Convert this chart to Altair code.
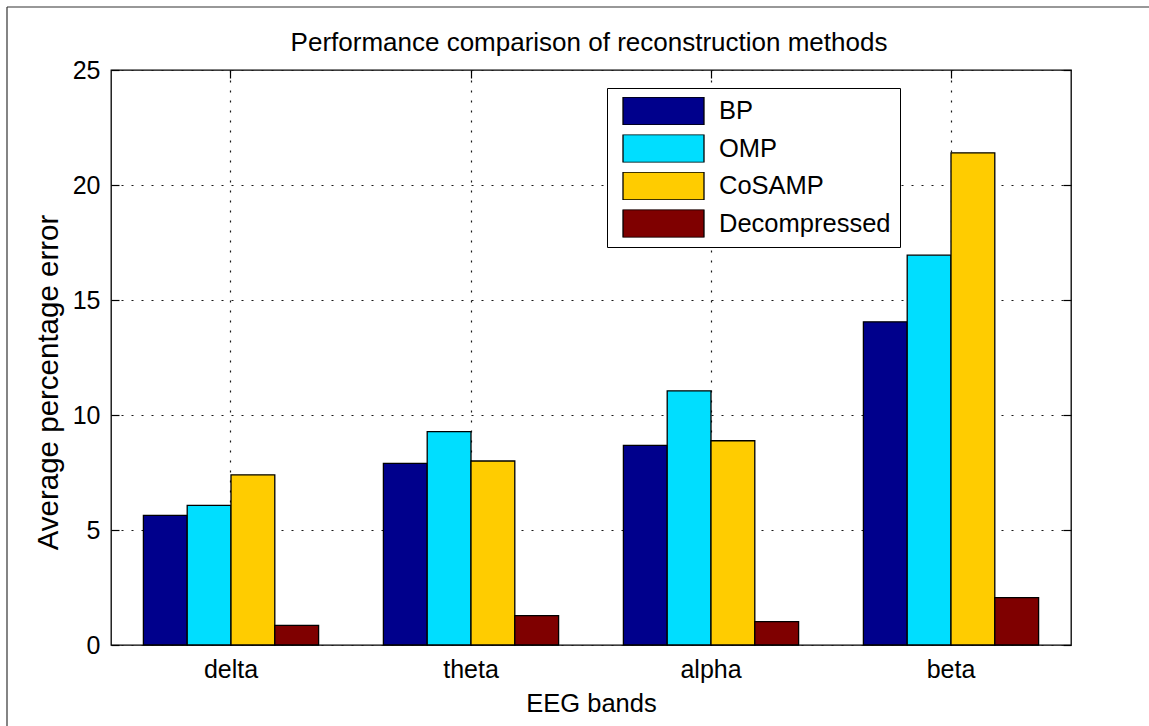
import altair as alt
import pandas as pd

# EEG bands on the x axis and reconstruction methods within each band
bands = ["delta", "theta", "alpha", "beta"]
methods = ["BP", "OMP", "CoSAMP", "Decompressed"]

# average percentage error per band, one list per method
bp = [5.64, 7.90, 8.68, 14.05]
omp = [6.07, 9.28, 11.05, 16.95]
cosamp = [7.40, 8.00, 8.88, 21.40]
decompressed = [0.85, 1.28, 1.02, 2.06]

y_ticks = [0, 5, 10, 15, 20, 25]
colors = ["#00008C", "#00DEFF", "#FFCC00", "#7F0000"]
chart_title = "Performance comparison of reconstruction methods"

series = dict(zip(methods, [bp, omp, cosamp, decompressed]))
df = pd.DataFrame(
    [{"band": b, "method": m, "value": v}
     for m in methods for b, v in zip(bands, series[m])]
)

FONT = "Liberation Sans"
FS = 25
TICK = 8

# wide, short legend swatch
swatch = "M-1,-0.3457L1,-0.3457L1,0.3457L-1,0.3457Z"

x_scale = alt.Scale(domain=bands, paddingInner=0.27, paddingOuter=0.135)
y_scale = alt.Scale(domain=[0, 25], nice=False)

bars = alt.Chart(df).mark_bar(stroke="black", strokeWidth=1.3).encode(
    x=alt.X(
        "band:N", sort=bands, scale=x_scale,
        axis=alt.Axis(
            orient="bottom", title="EEG bands", offset=-TICK, tickSize=TICK,
            domain=False, labelAngle=0, labelPadding=12,
            labelFont=FONT, labelFontSize=FS, labelColor="black",
            titleFont=FONT, titleFontSize=25.5, titleFontWeight="normal",
            titleColor="black", titleBaseline="alphabetic", titleY=74,
            tickColor="black", tickWidth=1.2,
            grid=True, gridColor="#1a1a1a", gridDash=[2, 8], gridWidth=1.2,
        ),
    ),
    xOffset=alt.XOffset(
        "method:N", sort=methods,
        scale=alt.Scale(domain=methods, paddingInner=0, paddingOuter=0),
    ),
    y=alt.Y(
        "value:Q", scale=y_scale,
        axis=alt.Axis(
            orient="left", title="Average percentage error", values=y_ticks,
            offset=-TICK, tickSize=TICK, domain=False, labelPadding=11,
            labelFont=FONT, labelFontSize=FS, labelColor="black",
            titleFont=FONT, titleFontSize=29.5, titleFontWeight="normal",
            titleColor="black", titleBaseline="alphabetic",
            titleX=-62, titleY=312,
            tickColor="black", tickWidth=1.2,
            grid=True, gridColor="#1a1a1a", gridDash=[2, 8], gridWidth=1.2,
        ),
    ),
    color=alt.Color(
        "method:N", sort=methods,
        scale=alt.Scale(domain=methods, range=colors),
        legend=alt.Legend(
            title=None, orient="none", legendX=496, legendY=18,
            symbolType=swatch, symbolSize=6561, symbolOpacity=1,
            symbolStrokeColor="black", symbolStrokeWidth=1.3,
            symbolOffset=6, labelOffset=14, clipHeight=28, rowPadding=9.5,
            labelFont=FONT, labelFontSize=25.5, labelColor="black",
            labelLimit=400,
            strokeColor="black", fillColor="white", padding=9,
            cornerRadius=0,
        ),
    ),
)

# invisible copy carrying the box ticks on the right and top edges
box = alt.Chart(df).mark_bar(opacity=0).encode(
    x=alt.X(
        "band:N", sort=bands, scale=x_scale,
        axis=alt.Axis(orient="top", title=None, labels=False, offset=-TICK,
                      tickSize=TICK, domain=False, grid=False,
                      tickColor="black", tickWidth=1.2),
    ),
    y=alt.Y(
        "value:Q", scale=y_scale,
        axis=alt.Axis(orient="right", title=None, labels=False, values=y_ticks,
                      offset=-TICK, tickSize=TICK, domain=False, grid=False,
                      tickColor="black", tickWidth=1.2),
    ),
)

# figure border along the left and top edges
edge = pd.DataFrame({"edge": [0]})
left_edge = alt.Chart(edge).mark_rule(color="#333333", strokeWidth=1.2).encode(
    x=alt.value(-104), y=alt.value(-63), y2=alt.value(660)
)
top_edge = alt.Chart(edge).mark_rule(color="#333333", strokeWidth=1.2).encode(
    y=alt.value(-63), x=alt.value(-104), x2=alt.value(1040)
)

# chart heading centred over the plot area
heading = alt.Chart(pd.DataFrame({"label": [chart_title]})).mark_text(
    font=FONT, fontSize=26, color="black", align="center",
    baseline="alphabetic",
).encode(
    text="label:N", x=alt.value(478), y=alt.value(-19)
)

chart = (
    alt.layer(bars, box, left_edge, top_edge, heading)
    .resolve_axis(x="independent", y="independent")
    .properties(
        width=960,
        height=575,
        autosize=alt.AutoSizeParams(type="none"),
        padding={"left": 111, "top": 70, "right": 78, "bottom": 81},
        background="white",
    )
    .configure_view(stroke="black", strokeWidth=1.3)
)

chart.save("out.html", embed_options={"renderer": "svg", "actions": False})
